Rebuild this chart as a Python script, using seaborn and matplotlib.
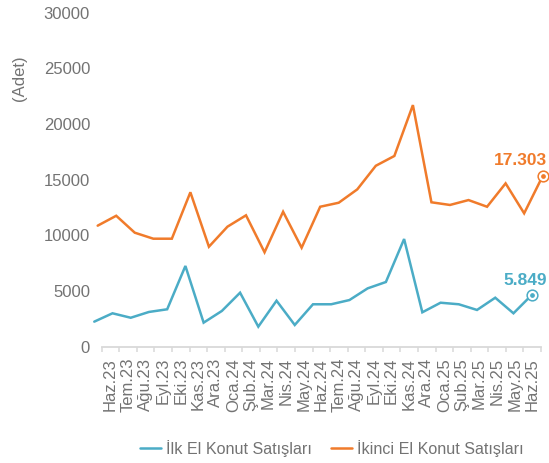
import numpy as np
import pandas as pd
import matplotlib
matplotlib.use("Agg")
import matplotlib.pyplot as plt
import seaborn as sns

# ---------------- data ----------------
months = ["Haz.23", "Tem.23", "Ağu.23", "Eyl.23", "Eki.23", "Kas.23", "Ara.23",
          "Oca.24", "Şub.24", "Mar.24", "Nis.24", "May.24", "Haz.24", "Tem.24",
          "Ağu.24", "Eyl.24", "Eki.24", "Kas.24", "Ara.24", "Oca.25", "Şub.25",
          "Mar.25", "Nis.25", "May.25", "Haz.25"]
ilk_el = [2250, 3000, 2600, 3120, 3360, 7250, 2160, 3210, 4850, 1800, 4130, 1950,
          3810, 3810, 4190, 5240, 5810, 9670, 3090, 3950, 3810, 3300, 4400, 3000, 4640]
ikinci_el = [10870, 11760, 10240, 9700, 9700, 13870, 8980, 10780, 11800, 8480, 12120,
             8890, 12570, 12930, 14130, 16250, 17130, 21700, 12970, 12730, 13170,
             12570, 14670, 11980, 15330]
series_names = ["İlk El Konut Satışları", "İkinci El Konut Satışları"]
last_labels = ["5.849", "17.303"]
y_label = "(Adet)"

# ---------------- style ----------------
TEAL = "#4BACC6"
ORANGE = "#F07B2B"
GRAY = "#737373"
LIGHT = "#d9d9d9"

sns.set_theme(style="white")
plt.rcParams["font.family"] = ["Liberation Sans", "DejaVu Sans"]

fig = plt.figure(figsize=(5.49, 4.63), dpi=100)
ax = fig.add_axes([0.1852, 0.2512, 0.8002, 0.7214])
n = len(months)
ax.set_xlim(-0.5, n - 0.5)
ax.set_ylim(0, 30000)
ax.set_yticks(range(0, 30001, 5000))
ax.set_xticks(range(n))
ax.set_xticklabels(months, rotation=90)
ax.set_xticks(np.arange(-0.5, n), minor=True)
ax.tick_params(axis="x", which="major", length=0, pad=8, labelsize=12, labelcolor=GRAY)
ax.tick_params(axis="x", which="minor", length=3.6, width=1.1, color=LIGHT, direction="out")
ax.tick_params(axis="y", length=0, pad=8.4, labelsize=12, labelcolor=GRAY)
for s in ["top", "right", "left"]:
    ax.spines[s].set_visible(False)
ax.spines["bottom"].set_color(LIGHT)
ax.spines["bottom"].set_linewidth(1.3)
ax.grid(False)

fig.text(20 / 549, 1 - 78 / 463, y_label, rotation=90, ha="center", va="center",
         fontsize=12, color=GRAY)

# each series is drawn on its own (hidden) x scale, as in the original graphic
series = [
    (ilk_el, TEAL, (0.406, 24.51), (11.2, 10.8)),
    (ikinci_el, ORANGE, (0.216, 23.908), (3.1, 11.0)),
]
handles = []
for (vals, color, xlim, off), name, lab in zip(series, series_names, last_labels):
    axt = ax.twiny()
    axt.set_xlim(*xlim)
    axt.set_axis_off()
    df = pd.DataFrame({"i": np.arange(len(vals)), "v": vals})
    sns.lineplot(data=df, x="i", y="v", ax=axt, color=color, linewidth=1.8,
                 label=name, legend=False)
    for ln in axt.lines:
        ln.set_clip_on(False)
        ln.set_solid_joinstyle("miter")
    handles.append(axt.lines[-1])
    last = df.iloc[[-1]]
    axt.plot(last["i"], last["v"], marker="o", markersize=7.7, markerfacecolor="white",
             markeredgecolor=color, markeredgewidth=1.1, linestyle="none", clip_on=False)
    axt.plot(last["i"], last["v"], marker="o", markersize=2.4, color=color,
             linestyle="none", clip_on=False)
    axt.annotate(lab, xy=(last["i"].iloc[0], last["v"].iloc[0]), xytext=off,
                 textcoords="offset points", ha="right", va="center",
                 fontsize=12.5, fontweight="bold", color=color, annotation_clip=False)

fig.legend(handles, series_names, loc="center", bbox_to_anchor=(0.604, 0.032), ncol=2,
           frameon=False, fontsize=11.6, labelcolor=GRAY, handlelength=1.3,
           handletextpad=0.3, columnspacing=1.2)

fig.savefig("out.png", dpi=100)
